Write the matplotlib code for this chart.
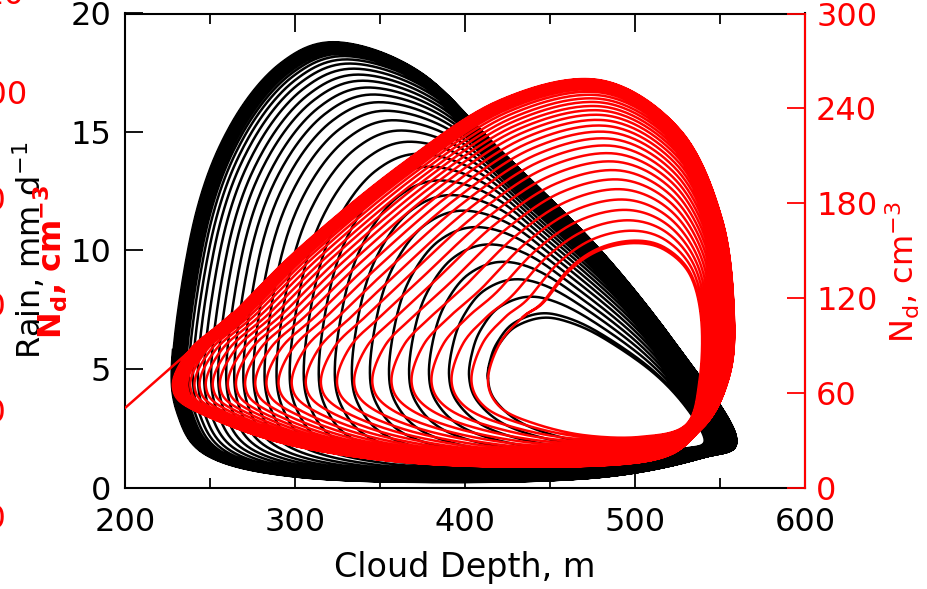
import numpy as np
import matplotlib
matplotlib.use("Agg")
import matplotlib.pyplot as plt
from matplotlib.ticker import MultipleLocator

plt.rcParams['mathtext.default'] = 'regular'

# black curve (rain vs depth): outermost loop and innermost loop, clockwise from right tip
rain_outer_depth = [559.4, 526.5, 479.4, 420.6, 373.5, 325.3, 291.2, 261.8,
                    241.2, 228.2, 231.2, 250.0, 302.9, 391.2, 479.4, 538.2]
rain_outer_rain = [2.13, 5.80, 10.02, 14.24, 17.53, 18.80, 17.91, 15.30,
                   11.50, 5.80, 3.06, 1.29, 0.44, 0.23, 0.44, 1.24]
rain_inner_depth = [541.0, 529.0, 508.8, 479.4, 458.8, 444.1, 429.4, 420.6,
                    415.9, 413.5, 417.6, 432.4, 455.9, 485.3, 510.0, 530.0]
rain_inner_rain = [2.00, 3.48, 4.96, 6.39, 7.03, 7.15, 6.77, 6.10,
                   5.46, 4.62, 3.69, 2.76, 2.13, 1.75, 1.60, 1.65]

# red curve (Nd vs depth): outermost and innermost loop
nd_outer_depth = [538.2, 554.7, 558.2, 551.2, 526.5, 479.4, 420.6, 361.8,
                  302.9, 263.5, 238.2, 228.2, 244.1, 302.9, 391.2, 502.9]
nd_outer_nd = [36.4, 68.0, 107.9, 169.3, 226.3, 257.9, 245.3, 204.1,
               152.2, 110.4, 87.0, 63.0, 47.2, 25.6, 14.2, 16.1]
nd_inner_depth = [530.0, 538.0, 539.0, 532.4, 517.6, 500.0, 479.4, 461.8,
                  445.9, 434.1, 420.6, 413.5, 420.6, 440.0, 469.4, 502.9]
nd_inner_nd = [39.6, 68.0, 106.0, 134.5, 150.3, 154.7, 150.3, 137.7,
               116.8, 107.9, 91.5, 68.0, 50.9, 40.8, 33.2, 32.0]

# leftmost depth reached by each successive loop (outer -> inner)
loop_left_depth = [228.2, 228.6, 229.1, 229.6, 230.1, 230.7, 231.4, 232.1, 232.9,
                   233.9, 235.1, 236.5, 238.2, 240.6, 243.5, 247.1, 251.2, 255.3,
                   260.0, 264.7, 270.0, 275.9, 282.4, 289.4, 297.1, 305.3, 314.1,
                   323.5, 333.5, 344.1, 355.3, 367.1, 378.8, 390.6, 402.4, 413.5,
                   413.5]

# starting point of the Nd trajectory
nd_start_depth = 200.0
nd_start_nd = 50.3


def catmull(ctrl, u):
    n = len(ctrl)
    i = np.floor(u).astype(int) % n
    t = (u - np.floor(u))[:, None]
    p0 = ctrl[(i - 1) % n]; p1 = ctrl[i]; p2 = ctrl[(i + 1) % n]; p3 = ctrl[(i + 2) % n]
    return 0.5 * (2 * p1 + (-p0 + p2) * t + (2 * p0 - 5 * p1 + 4 * p2 - p3) * t ** 2
                  + (-p0 + 3 * p1 - 3 * p2 + p3) * t ** 3)


def spiral(ox, oy, ix, iy, lefts, start):
    outer = np.column_stack([ox, oy])
    inner = np.column_stack([ix, iy])
    lefts = np.array(lefts)
    fr = (lefts[-1] - lefts) / (lefts[-1] - lefts[0])
    n = len(outer)
    K = len(fr) - 1
    s = np.linspace(0, K, K * 400)
    k = np.minimum(np.floor(s).astype(int), K - 1)
    f = fr[k] + (fr[k + 1] - fr[k]) * (s - k)
    u = (start + s * n) % n
    o = catmull(outer, u)
    inn = catmull(inner, u)
    p = inn + f[:, None] * (o - inn)
    return p[:, 0], p[:, 1]


bx, by = spiral(rain_outer_depth, rain_outer_rain, rain_inner_depth, rain_inner_rain,
                loop_left_depth, 9)
rx, ry = spiral(nd_outer_depth, nd_outer_nd, nd_inner_depth, nd_inner_nd,
                loop_left_depth, 9)
rx = np.concatenate([[nd_start_depth], rx])
ry = np.concatenate([[nd_start_nd], ry])

fig = plt.figure(figsize=(9.27, 5.89), dpi=100)
W, H = 927, 589
ax = fig.add_axes([125 / W, 1 - 487.5 / H, 680 / W, 474 / H])
ax2 = ax.twinx()

ax.plot(bx, by, color='black', lw=1.8)
ax2.plot(rx, ry, color='red', lw=1.8)

ax.set_xlim(200, 600)
ax.set_ylim(0, 20)
ax2.set_ylim(0, 300)
ax.set_xticks([200, 300, 400, 500, 600])
ax.xaxis.set_minor_locator(MultipleLocator(50))
ax.set_yticks([0, 5, 10, 15, 20])
ax2.set_yticks([0, 60, 120, 180, 240, 300])

ax.tick_params(axis='x', which='major', direction='in', length=13, width=1.3,
               top=True, labelsize=23, pad=14)
ax.tick_params(axis='x', which='minor', direction='in', length=7, width=1.3, top=True)
ax.tick_params(axis='y', direction='in', length=13, width=1.3, labelsize=23, pad=10)
ax2.tick_params(axis='y', direction='in', length=13, width=1.3, labelsize=23, pad=8,
                colors='red')
for sp in ax.spines.values():
    sp.set_linewidth(1.5)
for sp in ax2.spines.values():
    sp.set_linewidth(1.5)
ax2.spines['right'].set_color('red')
ax2.spines['left'].set_visible(False)
ax2.spines['top'].set_visible(False)
ax2.spines['bottom'].set_visible(False)

fig.text(465 / W, 1 - 568 / H, 'Cloud Depth, m', ha='center', va='center', fontsize=24)
fig.text(30 / W, 1 - 250 / H, r'Rain, mm d$^{-1}$', rotation=90, ha='center',
         va='center', fontsize=23)
fig.text(51 / W, 1 - 262 / H, r'N$_d$, cm$^{-3}$', rotation=90, ha='center',
         va='center', fontsize=23, color='red', fontweight='bold')
fig.text(903 / W, 1 - 272 / H, r'N$_d$, cm$^{-3}$', rotation=90, ha='center',
         va='center', fontsize=23, color='red')

# pieces of a neighbouring axis cut off at the left edge
stray_labels = ['20', '200', '10', '10', '10', '10']
stray_right = [25, 28, 6, 6, 6, 6]
stray_y = [-4, 95, 201, 307, 413, 519]
for s, xr, yy in zip(stray_labels, stray_right, stray_y):
    fig.text(xr / W, 1 - yy / H, s, ha='right', va='center', fontsize=23, color='red')

fig.savefig('out.png', dpi=100)
